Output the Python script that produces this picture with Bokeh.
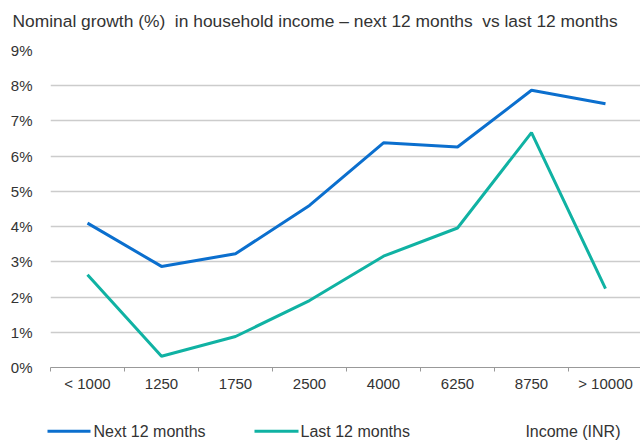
from bokeh.plotting import figure
from bokeh.layouts import column
from bokeh.models import Range1d, FixedTicker, Label
from bokeh.core.properties import value
from bokeh.embed import file_html
from bokeh.resources import INLINE

categories = ["< 1000", "1250", "1750", "2500", "4000", "6250", "8750", "> 10000"]
next_12 = [4.10, 2.87, 3.23, 4.60, 6.38, 6.26, 7.87, 7.49]
last_12 = [2.63, 0.32, 0.88, 1.90, 3.16, 3.96, 6.67, 2.24]
y_ticks = [0, 1, 2, 3, 4, 5, 6, 7, 8, 9]
series_names = ["Next 12 months", "Last 12 months"]
x_title = "Income (INR)"
title_text = "Nominal growth (%)\u00a0 in household income \u2013 next 12 months\u00a0 vs last 12 months"

BLUE = "#0b6fce"
TEAL = "#10b2a3"
TXT = "#333333"
FONT = "Liberation Sans"


def no_align(fig):
    try:
        fig.frame_align = False
    except Exception:
        pass


def strip(h):
    f = figure(width=640, height=h, output_backend="svg", toolbar_location=None,
               x_range=Range1d(0, 640), y_range=Range1d(0, h),
               min_border_left=0, min_border_right=0, min_border_top=0, min_border_bottom=0)
    f.axis.visible = False
    f.grid.visible = False
    f.outline_line_color = None
    f.border_fill_color = "white"
    f.background_fill_color = "white"
    no_align(f)
    return f


# title strip (pixel-unit ranges)
top = strip(38)
top.add_layout(Label(x=12, y=38 - 20.5, text=title_text, text_align="left",
                     text_baseline="middle", text_font=FONT,
                     text_font_size="17.4px", text_color=TXT))

xs = [i + 0.5 for i in range(len(categories))]

p = figure(width=640, height=362, output_backend="svg", toolbar_location=None,
           x_range=Range1d(0, 590 / 74), y_range=Range1d(0, 9),
           min_border_left=50, min_border_right=0, min_border_top=12, min_border_bottom=33)
p.outline_line_color = None
p.background_fill_color = "white"
p.border_fill_color = "white"
no_align(p)

p.line(xs, next_12, line_color=BLUE, line_width=3)
p.line(xs, last_12, line_color=TEAL, line_width=3)

# x axis
p.xaxis.ticker = FixedTicker(ticks=xs, minor_ticks=list(range(len(categories))))
p.xaxis.major_label_overrides = {x: c for x, c in zip(xs, categories)}
p.xaxis.major_tick_line_color = None
p.xaxis.major_tick_out = 0
p.xaxis.minor_tick_out = 4
p.xaxis.minor_tick_in = 0
p.xaxis.minor_tick_line_color = "#999999"
p.xaxis.axis_line_color = "#999999"
p.xaxis.major_label_standoff = 3
p.xaxis.major_label_text_font = FONT
p.xaxis.major_label_text_font_size = "15px"
p.xaxis.major_label_text_color = TXT

# y axis
p.yaxis.ticker = FixedTicker(ticks=y_ticks)
p.yaxis.major_label_overrides = {t: f"{t}%" for t in y_ticks}
p.yaxis.axis_line_color = None
p.yaxis.major_tick_line_color = None
p.yaxis.minor_tick_line_color = None
p.yaxis.major_label_standoff = 12
p.yaxis.major_label_text_font = FONT
p.yaxis.major_label_text_font_size = "15px"
p.yaxis.major_label_text_color = TXT

p.xgrid.grid_line_color = None
p.ygrid.grid_line_color = "#cccccc"
p.ygrid.grid_line_width = 1.5

# legend strip (pixel-unit ranges)
lg = strip(41)
lg.segment(x0=[47, 254], y0=[10.3, 10.3], x1=[90, 298], y1=[10.3, 10.3],
           line_color=[BLUE, TEAL], line_width=3)
lg.text(x=[93, 300], y=[10.2, 10.2], text=series_names, text_align="left",
        text_baseline="middle", text_font=value(FONT), text_font_size="16px",
        text_color=TXT)
lg.add_layout(Label(x=620, y=10.2, text=x_title, text_align="right",
                    text_baseline="middle", text_font=FONT,
                    text_font_size="16px", text_color=TXT))

open("out.html", "w").write(file_html(column(top, p, lg, spacing=0), INLINE))
